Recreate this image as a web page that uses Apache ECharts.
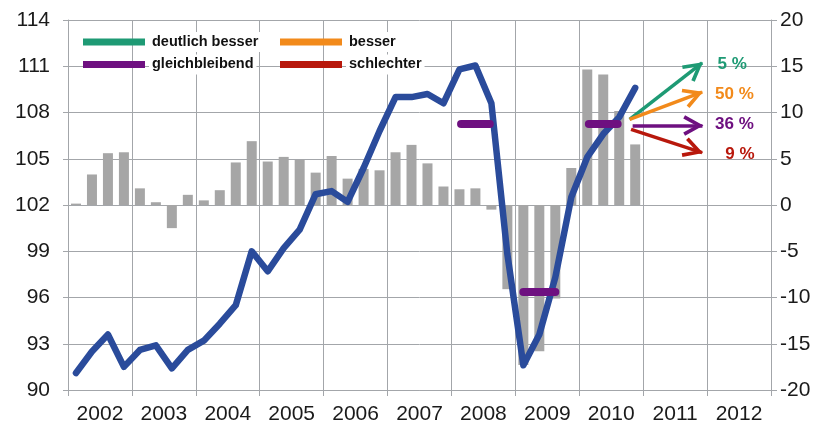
<!DOCTYPE html>
<html>
<head>
<meta charset="utf-8">
<script src="https://cdn.jsdelivr.net/npm/echarts@6/dist/echarts.min.js"></script>
<style>
  html, body { margin: 0; padding: 0; background: #fff; }
  #chart { width: 820px; height: 425px; }
</style>
</head>
<body>
<div id="chart"></div>
<script>
var chart = echarts.init(document.getElementById('chart'));

// years on the axis, data is quarterly
const years = ['2002', '2003', '2004', '2005', '2006', '2007', '2008', '2009', '2010', '2011', '2012'];
const quarters = [];
years.forEach(y => ['Q1', 'Q2', 'Q3', 'Q4'].forEach(q => quarters.push(y + ' ' + q)));

// index (left axis), 2002 Q1 .. 2010 Q4
const indexLevel = [
  91.1, 92.5, 93.6, 91.5,
  92.6, 92.9, 91.4, 92.6,
  93.2, 94.3, 95.5, 99.0,
  97.7, 99.2, 100.4, 102.7,
  102.9, 102.2, 104.4, 106.8,
  109.0, 109.0, 109.2, 108.6,
  110.8, 111.05, 108.6, 98.8,
  91.6, 93.6, 97.3, 102.5,
  105.1, 106.6, 107.7, 109.6
];

// change vs. previous year in % (right axis)
const yoyChange = [
  0.15, 3.3, 5.6, 5.7,
  1.8, 0.3, -2.5, 1.1,
  0.5, 1.6, 4.6, 6.9,
  4.7, 5.2, 4.9, 3.5,
  5.3, 2.85, 3.9, 3.75,
  5.7, 6.5, 4.5, 2.0,
  1.7, 1.8, -0.5, -9.1,
  -17.3, -15.8, -10.1, 4.0,
  14.65, 14.1, 10.15, 6.55
];

// flat purple marks: [from quarter, to quarter, value right axis]
const flatMarks = [[24.6, 26.4, 8.8], [28.5, 30.5, -9.4], [32.6, 34.4, 8.8]];

// outlook arrows
const outlookNames = ['deutlich besser', 'besser', 'gleichbleibend', 'schlechter'];
const outlookFrom = [[35.15, 9.25], [35.15, 9.25], [35.34, 8.6], [35.24, 8.17]];
const outlookTo = [[39.69, 15.37], [39.69, 12.2], [39.71, 8.6], [39.69, 5.66]];
const outlookShares = ['5 %', '50 %', '36 %', '9 %'];
const shareAt = [[41.57, 15.26], [41.71, 11.95], [41.71, 8.71], [42.06, 5.47]];

const outlookColors = ['#1E9A74', '#F28A1B', '#6E1080', '#B8180C'];
const gridColor = '#A3A6AA';
const font = 'Liberation Sans, Arial, sans-serif';

// open chevron, tip at 0,0 and square bbox so it keeps its shape
const arrowHead = 'path://M0,-1L10.3,17.4L7,19.2L0,6.4L-7,19.2L-10.3,17.4ZM-20,-20L-20,-20M20,20L20,20';

const arrowSeries = outlookNames.map((name, i) => ({
  type: 'lines',
  name: name,
  coordinateSystem: 'cartesian2d',
  xAxisIndex: 2,
  yAxisIndex: 1,
  symbol: ['none', arrowHead],
  symbolSize: 40,
  color: outlookColors[i],
  lineStyle: { color: outlookColors[i], width: 3.5, opacity: 1, curveness: 0 },
  data: [{ coords: [outlookFrom[i], outlookTo[i]] }],
  z: 5
}));

const legendText = {
  fontFamily: font,
  fontSize: 14.5,
  fontWeight: 'bold',
  color: '#111',
  lineHeight: 16,
  backgroundColor: '#fff',
  padding: [2, 3]
};

const legendItem = (i) => ({ name: outlookNames[i], icon: 'rect', itemStyle: { color: outlookColors[i] } });

var option = {
  animation: false,
  backgroundColor: '#fff',
  grid: { left: 68, right: 49, top: 20, bottom: 34 },
  legend: [
    {
      orient: 'vertical', left: 83, top: 32, padding: 0, itemGap: 2.4,
      itemWidth: 60, itemHeight: 5,
      data: [legendItem(0), legendItem(2)],
      textStyle: legendText
    },
    {
      orient: 'vertical', left: 280, top: 32, padding: 0, itemGap: 2.4,
      itemWidth: 60, itemHeight: 5,
      data: [legendItem(1), legendItem(3)],
      textStyle: legendText
    }
  ],
  xAxis: [
    {
      type: 'category',
      data: quarters,
      boundaryGap: true,
      show: false
    },
    {
      type: 'category',
      data: years,
      boundaryGap: true,
      position: 'bottom',
      axisLine: { show: true, lineStyle: { color: gridColor, width: 1 } },
      axisTick: { show: true, interval: 0, length: 6, lineStyle: { color: gridColor } },
      axisLabel: { interval: 0, margin: 14, fontSize: 21, fontFamily: font, color: '#1a1a1a' },
      splitLine: { show: true, interval: 0, lineStyle: { color: gridColor, width: 1 } }
    },
    {
      type: 'value',
      min: 0,
      max: 44,
      show: false
    }
  ],
  yAxis: [
    {
      type: 'value',
      position: 'left',
      min: 90,
      max: 114,
      interval: 3,
      axisLine: { show: true, lineStyle: { color: gridColor } },
      axisTick: { show: true, length: 5, lineStyle: { color: gridColor } },
      axisLabel: { margin: 18, fontSize: 21, fontFamily: font, color: '#1a1a1a' },
      splitLine: { show: true, lineStyle: { color: gridColor, width: 1 } }
    },
    {
      type: 'value',
      position: 'right',
      min: -20,
      max: 20,
      interval: 5,
      axisLine: { show: true, lineStyle: { color: gridColor } },
      axisTick: { show: true, length: 6, lineStyle: { color: gridColor } },
      axisLabel: { margin: 9, fontSize: 21, fontFamily: font, color: '#1a1a1a' },
      splitLine: { show: false }
    }
  ],
  series: [
    {
      type: 'bar',
      xAxisIndex: 0,
      yAxisIndex: 1,
      barWidth: 10,
      itemStyle: { color: '#A6A6A6' },
      data: yoyChange,
      z: 2
    },
    {
      type: 'line',
      xAxisIndex: 0,
      yAxisIndex: 0,
      showSymbol: false,
      symbol: 'none',
      lineStyle: { color: '#2A4B9B', width: 6.5, join: 'round', cap: 'round' },
      data: indexLevel,
      z: 3
    },
    {
      type: 'lines',
      coordinateSystem: 'cartesian2d',
      xAxisIndex: 2,
      yAxisIndex: 1,
      lineStyle: { color: outlookColors[2], width: 8, opacity: 1, cap: 'round' },
      data: flatMarks.map(m => ({ coords: [[m[0], m[2]], [m[1], m[2]]] })),
      z: 4
    },
    ...arrowSeries,
    {
      type: 'scatter',
      xAxisIndex: 2,
      yAxisIndex: 1,
      symbolSize: 0,
      silent: true,
      itemStyle: { opacity: 1 },
      label: {
        show: true,
        position: 'inside',
        fontFamily: font,
        fontSize: 17,
        fontWeight: 'bold',
        opacity: 1,
        formatter: (p) => outlookShares[p.dataIndex]
      },
      data: shareAt.map((pos, i) => ({ value: pos, label: { color: outlookColors[i] } })),
      z: 6
    }
  ]
};

chart.setOption(option);
</script>
</body>
</html>
